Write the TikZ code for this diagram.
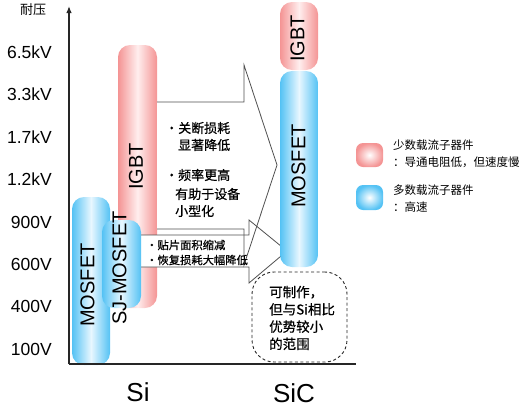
\documentclass[tikz,border=0pt]{standalone}
\usepackage{fontspec}
\setmainfont{Liberation Sans}
\newfontfamily\cjk{Noto Sans CJK SC}
\newfontfamily\cjkb[FakeBold=0.6]{Noto Sans CJK SC}
\usetikzlibrary{arrows.meta}
\definecolor{bE}{RGB}{84,194,244}
\definecolor{bM}{RGB}{232,247,255}
\definecolor{pE}{RGB}{244,148,148}
\definecolor{pM}{RGB}{255,238,238}
\definecolor{lineC}{RGB}{80,80,80}
\tikzset{
  bar/.style={rounded corners=12pt, inner sep=0pt, draw=none},
  bluebar/.style={bar, left color=bE, right color=bE, middle color=bM},
  pinkbar/.style={bar, left color=pE, right color=pE, middle color=pM},
  swatchblue/.style={rounded corners=7pt, inner sep=0pt, draw=none, inner color=white, outer color=bE},
  swatchpink/.style={rounded corners=7pt, inner sep=0pt, draw=none, inner color=white, outer color=pE},
  barlabel/.style={rotate=90, inner sep=0pt, font=\fontsize{20}{20}\selectfont},
  ylab/.style={anchor=east, inner sep=0pt, font=\fontsize{17.5}{17.5}\selectfont},
  cjktext/.style={anchor=west, inner sep=0pt, font=\cjkb\fontsize{13}{13}\selectfont},
  smalltext/.style={anchor=west, inner sep=0pt, font=\cjkb\fontsize{11.3}{11.3}\selectfont},
  legtext/.style={anchor=west, inner sep=0pt, font=\cjk\fontsize{11.5}{11.5}\selectfont},
  arrowline/.style={draw=lineC, line width=0.8pt},
  axisline/.style={draw=black!85, line width=1.3pt},
  catlabel/.style={inner sep=0pt, font=\fontsize{26}{26}\selectfont},
}
\begin{document}
\begin{tikzpicture}[x=1pt,y=-1pt]
\useasboundingbox (0,0) rectangle (532,407);

% Si IGBT
\node[pinkbar, minimum width=39, minimum height=263] (siigbt) at (137.5,176.5) {};
% big arrow fill
\fill[white] (157,102) -- (244,102) -- (244,65) -- (277,165) -- (244,265) -- (244,229) -- (157,229) -- cycle;
% Si MOSFET
\node[bluebar, minimum width=38, minimum height=168] (simos) at (91,281) {};
% small arrow
\filldraw[fill=white, arrowline] (141,235) -- (249,235) -- (249,220) -- (287,251) -- (249,283) -- (249,267) -- (141,267);
% SJ-MOSFET
\node[bluebar, minimum width=39, minimum height=88] (sjmos) at (121.5,264) {};
% big arrow outline
\draw[arrowline] (157,229) -- (244,229) -- (244,265) -- (277,165) -- (244,65) -- (244,102) -- (157,102);

% SiC bars
\node[bluebar, minimum width=38, minimum height=196] (sicmos) at (299,169) {};
\node[pinkbar, minimum width=38, minimum height=68] (sicigbt) at (299,36) {};

% bar labels
\node[barlabel] (lsimos) at (87.5,285) {MOSFET};
\node[barlabel] (lsjmos) at (119.5,268) {SJ-MOSFET};
\node[barlabel] (lsiigbt) at (136,166.5) {IGBT};
\node[barlabel] (lsicigbt) at (297.5,38.5) {IGBT};
\node[barlabel] (lsicmos) at (298.5,166) {MOSFET};

% arrow texts
\node[cjktext] (t1) at (165,128) {・关断损耗};
\node[cjktext] (t2) at (178,145) {显著降低};
\node[cjktext] (t3) at (165,175) {・频率更高};
\node[cjktext] (t4) at (175,194) {有助于设备};
\node[cjktext] (t5) at (175,211) {小型化};
\node[smalltext] (s1) at (146,245) {・贴片面积缩减};
\node[smalltext] (s2) at (146,260) {・恢复损耗大幅降低};

% axes
\coordinate (o) at (69,364);
\coordinate (ytop) at (69,6);
\coordinate (xend) at (356,364);
\draw[axisline, -{Latex[length=7pt,width=5.5pt]}] (o) -- (ytop);
\draw[axisline] (o) -- (xend);

% y labels
\node[inner sep=0pt, font=\cjk\fontsize{13}{13}\selectfont] (ytitle) at (33,10) {耐压};
\node[ylab] (y1) at (52,52.5) {6.5kV};
\node[ylab] (y2) at (52,94) {3.3kV};
\node[ylab] (y3) at (52,137.5) {1.7kV};
\node[ylab] (y4) at (52,179) {1.2kV};
\node[ylab] (y5) at (52,222) {900V};
\node[ylab] (y6) at (52,264) {600V};
\node[ylab] (y7) at (52,306) {400V};
\node[ylab] (y8) at (52,349) {100V};

% category labels
\node[catlabel] (csi) at (138,392) {Si};
\node[catlabel] (csic) at (294,393) {SiC};

% dashed note
\node[draw=black!85, dash pattern=on 3pt off 2.5pt, line width=0.9pt, rounded corners=22pt,
      minimum width=95, minimum height=90, inner sep=0pt] (note) at (299.5,317) {};
\node[anchor=west, align=left, inner sep=0pt, font=\cjkb\fontsize{13.5}{17.3}\selectfont] (notetext) at (269,318)
  {可制作，\\但与Si相比\\优势较小\\的范围};

% legend
\node[swatchpink, minimum width=27, minimum height=24] (legpink) at (369.5,155) {};
\node[swatchblue, minimum width=27, minimum height=25] (legblue) at (369.5,197.5) {};
\node[legtext] (lg1) at (393,145) {少数载流子器件};
\node[legtext] (lg2) at (393,162) {：导通电阻低，但速度慢};
\node[legtext] (lg3) at (393,190) {多数载流子器件};
\node[legtext] (lg4) at (393,207) {：高速};
\end{tikzpicture}
\end{document}
